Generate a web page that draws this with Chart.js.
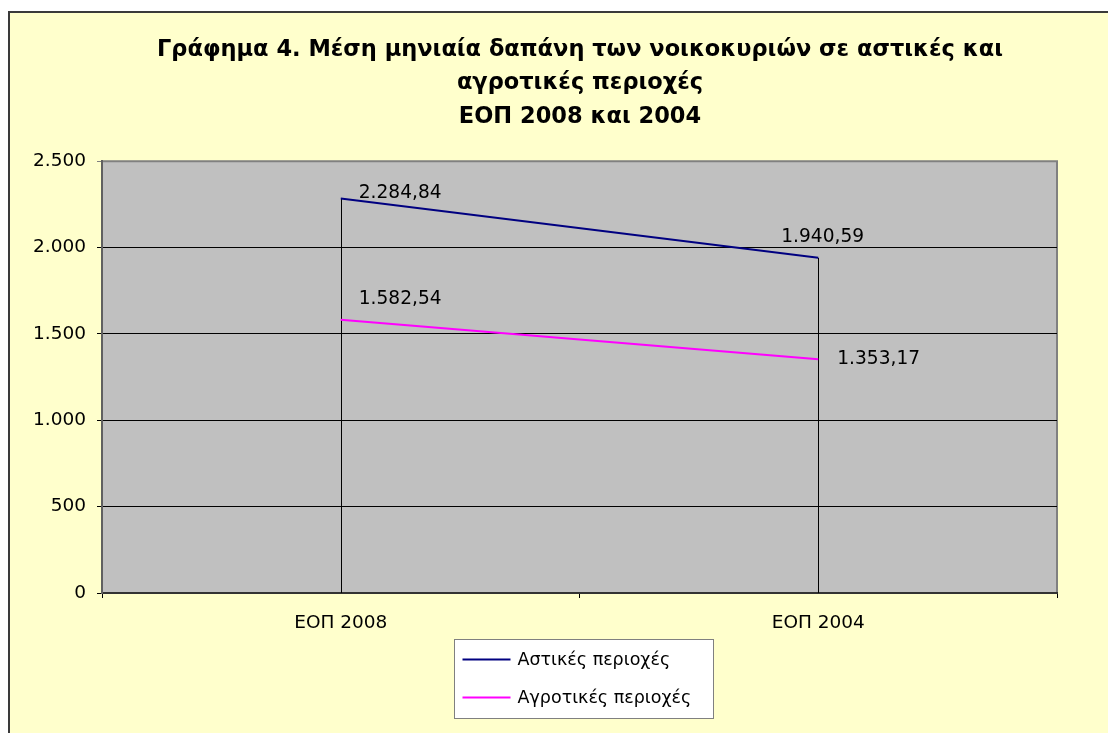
<!DOCTYPE html>
<html lang="el">
<head>
<meta charset="utf-8">
<script src="https://cdn.jsdelivr.net/npm/chart.js@4"></script>
<style>
  html,body{margin:0;padding:0;overflow:hidden;background:#fff;}
  #wrap{position:fixed;left:0;top:0;width:1108px;height:733px;overflow:hidden;}
  #box{position:absolute;left:8px;top:11px;width:1140px;height:760px;
       border:2px solid #3a3a3a;background:#FFFFCC;}
</style>
</head>
<body>
<div id="wrap"><div id="box"><canvas id="chart"></canvas></div></div>
<script>
// Γράφημα 4 — μέση μηνιαία δαπάνη, αστικές / αγροτικές περιοχές

const titleLines = ["Γράφημα 4. Μέση μηνιαία δαπάνη των νοικοκυριών σε αστικές και",
                    "αγροτικές περιοχές", "ΕΟΠ 2008 και 2004"];
const categories = ["ΕΟΠ 2008", "ΕΟΠ 2004"];
const seriesNames = ["Αστικές περιοχές", "Αγροτικές περιοχές"];
const astikes = [2284.84, 1940.59];
const agrotikes = [1582.54, 1353.17];
const yTicks = [0, 500, 1000, 1500, 2000, 2500];

// police large comme le rendu Excel de l'original
const FONT = "'DejaVu Sans', 'Liberation Sans', Arial, sans-serif";

// 2284.84 -> "2.284,84"
function fmt(v, dec){
  const [i, d] = v.toFixed(dec).split(".");
  const ent = i.replace(/\B(?=(\d{3})+(?!\d))/g, ".");
  return d ? ent + "," + d : ent;
}

// décalages des étiquettes (placées à la main comme dans Excel)
const labelOffsets = [[[18,-5],[-37,-21]], [[18,-21],[19,0]]];

const plotBg = {
  id:"plotBg",
  beforeDraw(chart){
    const {ctx, chartArea:a} = chart;
    ctx.save();
    ctx.fillStyle = "#C0C0C0";
    ctx.fillRect(a.left, a.top, a.right-a.left, a.bottom-a.top);
    ctx.strokeStyle = "#808080"; ctx.lineWidth = 2;
    ctx.beginPath();
    ctx.moveTo(a.left, a.top); ctx.lineTo(a.right, a.top); ctx.lineTo(a.right, a.bottom);
    ctx.stroke();
    ctx.restore();
  }
};

const dropLines = {
  id:"dropLines",
  beforeDatasetsDraw(chart){
    const {ctx, chartArea:a, scales:{x, y}} = chart;
    ctx.save();
    ctx.strokeStyle = "#000"; ctx.lineWidth = 1;
    categories.forEach((c, i) => {
      const top = Math.max(...chart.data.datasets.map(d => d.data[i]));
      const px = Math.round(x.getPixelForValue(i)) + 0.5;
      ctx.beginPath();
      ctx.moveTo(px, y.getPixelForValue(top)); ctx.lineTo(px, a.bottom);
      ctx.stroke();
    });
    ctx.restore();
  }
};

const dataLabels = {
  id:"dataLabels",
  afterDatasetsDraw(chart){
    const ctx = chart.ctx;
    ctx.save();
    ctx.font = "18.6px " + FONT; ctx.fillStyle = "#000";
    ctx.textAlign = "left"; ctx.textBaseline = "middle";
    chart.data.datasets.forEach((d, di) => {
      chart.getDatasetMeta(di).data.forEach((pt, i) => {
        const [dx, dy] = labelOffsets[di][i];
        ctx.fillText(fmt(d.data[i], 2), pt.x + dx, pt.y + dy);
      });
    });
    ctx.restore();
  }
};

const boxLegend = {
  id:"boxLegend",
  afterDraw(chart){
    const {ctx, chartArea:a} = chart;
    const w = 259, h = 79;
    const bx = Math.round(chart.width/2 - 126) + 0.5, by = a.bottom + 46.5;
    ctx.save();
    ctx.fillStyle = "#fff"; ctx.fillRect(bx, by, w, h);
    ctx.strokeStyle = "#808080"; ctx.lineWidth = 1; ctx.strokeRect(bx, by, w, h);
    ctx.font = "17.5px " + FONT; ctx.textBaseline = "middle"; ctx.textAlign = "left";
    chart.data.datasets.forEach((d, i) => {
      const yy = by + 20 + i*38;
      ctx.strokeStyle = d.borderColor; ctx.lineWidth = 2;
      ctx.beginPath(); ctx.moveTo(bx+8, yy); ctx.lineTo(bx+56, yy); ctx.stroke();
      ctx.fillStyle = "#000"; ctx.fillText(d.label, bx+63, yy+1);
    });
    ctx.restore();
  }
};

new Chart(document.getElementById("chart"), {
  type:"line",
  data:{
    labels: categories,
    datasets:[
      {label:seriesNames[0], data:astikes, borderColor:"#000080", borderWidth:2,
       pointRadius:0, tension:0, fill:false},
      {label:seriesNames[1], data:agrotikes, borderColor:"#FF00FF", borderWidth:2,
       pointRadius:0, tension:0, fill:false},
    ],
  },
  options:{
    responsive:true, maintainAspectRatio:false, animation:false,
    layout:{padding:0},
    plugins:{
      legend:{display:false}, tooltip:{enabled:false},
      title:{display:true, text:titleLines, color:"#000",
             font:{family:FONT, size:22.5, weight:"bold", lineHeight:1.5},
             padding:{top:20, bottom:27}},
    },
    scales:{
      x:{
        offset:true,
        grid:{offset:true, drawOnChartArea:false, drawTicks:true, tickLength:5, color:"#000"},
        border:{color:"#333", width:2},
        ticks:{font:{family:FONT, size:18.5}, color:"#000", padding:14, maxRotation:0},
        afterFit(s){ s.height = 180; },
      },
      y:{
        min:0, max:2500,
        afterBuildTicks(s){ s.ticks = yTicks.map(v => ({value:v})); },
        grid:{color:c => c.tick && c.tick.value === 2500 ? "#808080" : "#000",
              tickLength:5, lineWidth:1},
        border:{color:"#606060", width:2},
        ticks:{font:{family:FONT, size:18.5}, color:"#000", padding:11,
               callback:v => fmt(v, 0)},
        afterFit(s){ s.width = 92; },
      },
      // marge droite vide, pour garder le titre centré sur toute la largeur
      marge:{
        position:"right", grid:{display:false}, border:{display:false},
        ticks:{display:false}, afterFit(s){ s.width = 93; },
      },
    },
  },
  plugins:[plotBg, dropLines, dataLabels, boxLegend],
});
</script>
</body>
</html>
